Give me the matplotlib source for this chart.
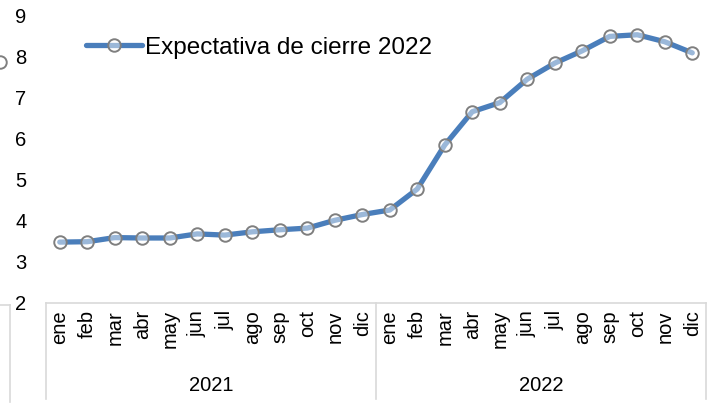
import matplotlib.pyplot as plt
from matplotlib.lines import Line2D

plt.rcParams['font.family'] = ['Liberation Sans', 'DejaVu Sans']

months = ['ene', 'feb', 'mar', 'abr', 'may', 'jun', 'jul', 'ago', 'sep', 'oct', 'nov', 'dic']
years = ['2021', '2022']
values = [3.48, 3.49, 3.59, 3.58, 3.58, 3.68, 3.65, 3.73, 3.78, 3.82, 4.01, 4.15,
          4.26, 4.77, 5.84, 6.65, 6.87, 7.44, 7.83, 8.13, 8.48, 8.52, 8.35, 8.08]
series_name = 'Expectativa de cierre 2022'

W, H = 707, 409
fig = plt.figure(figsize=(W / 100, H / 100), dpi=100)
ax = fig.add_axes([46 / W, 1 - 303 / H, 660 / W, 288 / H])

x = list(range(len(values)))
ax.plot(x, values, color='#4a7ebb', linewidth=3.8, marker='o', markersize=9,
        markerfacecolor=(1, 1, 1, 0.45), markeredgecolor='#7f7f7f', markeredgewidth=1.4,
        label=series_name, solid_capstyle='round', solid_joinstyle='round')

ax.set_xlim(-0.5, len(values) - 0.5)
ax.set_ylim(2, 9)
ax.set_yticks(range(2, 10))
ax.tick_params(axis='y', length=0, labelsize=14.5, pad=14)
ax.set_xticks([])
for s in ['top', 'right', 'left']:
    ax.spines[s].set_visible(False)
ax.spines['bottom'].set_color('#d9d9d9')
ax.spines['bottom'].set_linewidth(1.2)

# month labels and year groups below the axis
trans = ax.get_xaxis_transform()
for i in x:
    ax.text(i, -0.025, months[i % 12], transform=trans, rotation=90,
            ha='center', va='top', fontsize=14.5)
for k, yr in enumerate(years):
    ax.text(k * 12 + 5.5, -0.285, yr, transform=trans, ha='center', va='center', fontsize=14.5)
for b in [-0.5, 11.5, 23.5]:
    ax.add_line(Line2D([b, b], [0, -0.335], transform=trans, color='#d9d9d9',
                       linewidth=1.2, clip_on=False))

leg = ax.legend(loc='upper left', bbox_to_anchor=(0.028, 1.0), frameon=False,
                fontsize=17.5, handlelength=2.3, handletextpad=0.1)

# remains of the neighbouring chart on the left edge
fig.add_artist(Line2D([0, 10 / W], [1 - 305 / H] * 2, color='#d9d9d9', linewidth=1.2))
fig.add_artist(Line2D([10 / W] * 2, [1 - 305 / H, 1 - 402 / H], color='#d9d9d9', linewidth=1.2))
fig.text(-5 / W, 1 - 310 / H, 'dic', rotation=90, ha='center', va='top', fontsize=14.5)
fig.add_artist(Line2D([0], [1 - 62 / H], marker='o', markersize=9, color='none',
                      markerfacecolor='none', markeredgecolor='#7f7f7f', markeredgewidth=1.4))

fig.savefig('out.png', dpi=100)
